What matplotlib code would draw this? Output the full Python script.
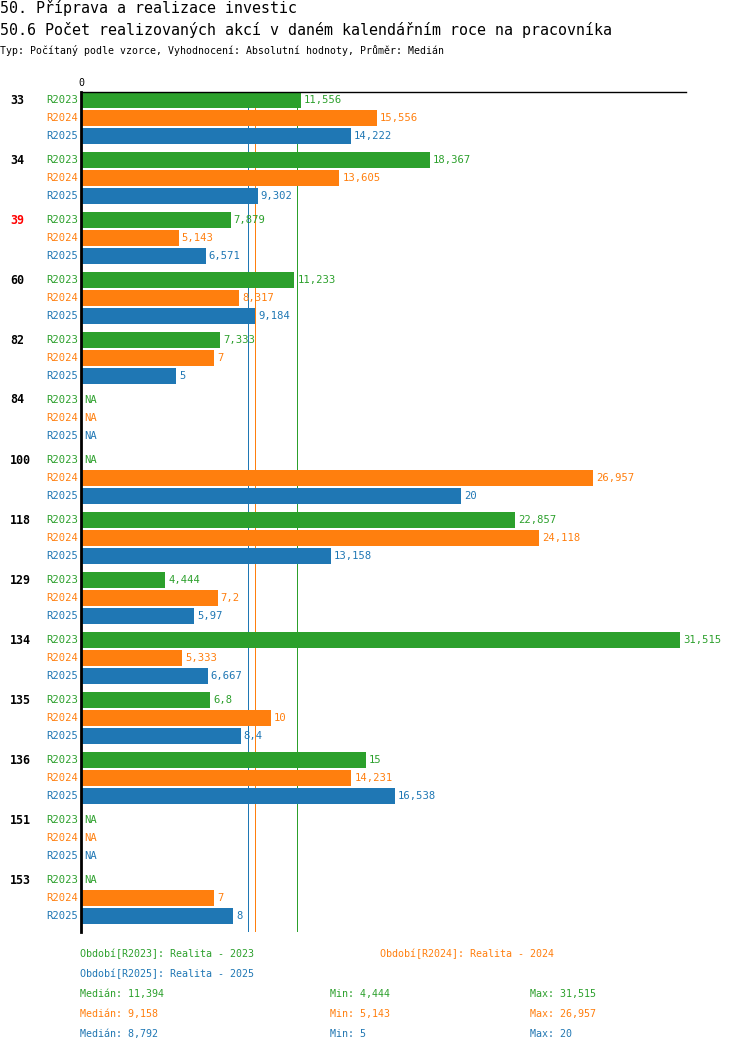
import matplotlib
matplotlib.use('Agg')
import matplotlib.pyplot as plt
import numpy as np

groups = ['33', '34', '39', '60', '82', '84', '100', '118', '129', '134', '135', '136', '151', '153']
periods = ['R2023', 'R2024', 'R2025']
r2023 = [11.556, 18.367, 7.879, 11.233, 7.333, None, None, 22.857, 4.444, 31.515, 6.8, 15, None, None]
r2024 = [15.556, 13.605, 5.143, 8.317, 7, None, 26.957, 24.118, 7.2, 5.333, 10, 14.231, None, 7]
r2025 = [14.222, 9.302, 6.571, 9.184, 5, None, 20, 13.158, 5.97, 6.667, 8.4, 16.538, None, 8]
medians = [11.394, 9.158, 8.792]
mins = [4.444, 5.143, 5]
maxs = [31.515, 26.957, 20]
highlight = ['39']

colors = ['#2ca02c', '#ff7f0e', '#1f77b4']
series = [r2023, r2024, r2025]
mono = 'DejaVu Sans Mono'

W, H = 750, 1052
fig = plt.figure(figsize=(W / 100, H / 100), dpi=100)

# axes placed in pixel coords
ax_l, ax_t, ax_r, ax_b = 81, 92, 686, 932
ax = fig.add_axes([ax_l / W, 1 - ax_b / H, (ax_r - ax_l) / W, (ax_b - ax_t) / H])
px_per_unit = 19.0
ax.set_xlim(0, (ax_r - ax_l) / px_per_unit)
ax.set_ylim(ax_b - ax_t, 0)


def fmt(v):
    s = f"{v:.3f}".rstrip('0').rstrip('.')
    return s.replace('.', ',')


def fx(px):
    return px / W


def fy(py):
    return 1 - py / H


group_h = 60
row_h = 18
bar_h = 16
for gi, g in enumerate(groups):
    gy = gi * group_h
    fig.text(fx(10), fy(ax_t + gy + 8), g, ha='left', va='center', fontsize=8.4,
             fontweight='bold', family=mono, color='red' if g in highlight else 'black')
    for si, (p, vals) in enumerate(zip(periods, series)):
        yc = gy + si * row_h + bar_h / 2
        fig.text(fx(78), fy(ax_t + yc), p, ha='right', va='center', fontsize=7.6,
                 family=mono, color=colors[si])
        v = vals[gi]
        if v is None:
            ax.text(3 / px_per_unit, yc, 'NA', ha='left', va='center', fontsize=7.6,
                    family=mono, color=colors[si])
        else:
            ax.barh(yc, v, height=bar_h, color=colors[si], zorder=2)
            ax.text(v + 3 / px_per_unit, yc, fmt(v), ha='left', va='center',
                    fontsize=7.6, family=mono, color=colors[si])

# median lines sit behind the bars, 1 px wide
for m, c in zip(medians, colors):
    ax.axvline(m, color=c, linewidth=0.72, zorder=1, antialiased=False)

for s in ['right', 'bottom']:
    ax.spines[s].set_visible(False)
ax.spines['top'].set_linewidth(1.0)
ax.spines['left'].set_linewidth(2.0)
ax.spines['left'].set_zorder(4)
ax.xaxis.tick_top()
ax.set_xticks([0])
ax.set_xticklabels(['0'], family=mono, fontsize=7.2)
ax.tick_params(axis='x', length=0, pad=3)
ax.set_yticks([])

# titles
fig.text(0, fy(8), '50. Příprava a realizace investic', ha='left', va='center',
         fontsize=10.8, family=mono)
fig.text(0, fy(30), '50.6 Počet realizovaných akcí v daném kalendářním roce na pracovníka',
         ha='left', va='center', fontsize=10.8, family=mono)
fig.text(0, fy(50), 'Typ: Počítaný podle vzorce, Vyhodnocení: Absolutní hodnoty, Průměr: Medián',
         ha='left', va='center', fontsize=7.1, family=mono)

# legend and stats
legend_pos = [(80, 954), (380, 954), (80, 974)]
for (lx, ly), p, c in zip(legend_pos, periods, colors):
    fig.text(fx(lx), fy(ly), f'Období[{p}]: Realita - {p[1:]}', ha='left', va='center',
             fontsize=7.2, family=mono, color=c)
for si, c in enumerate(colors):
    ly = 994 + si * 20
    fig.text(fx(80), fy(ly), f'Medián: {fmt(medians[si])}', ha='left', va='center',
             fontsize=7.2, family=mono, color=c)
    fig.text(fx(330), fy(ly), f'Min: {fmt(mins[si])}', ha='left', va='center',
             fontsize=7.2, family=mono, color=c)
    fig.text(fx(530), fy(ly), f'Max: {fmt(maxs[si])}', ha='left', va='center',
             fontsize=7.2, family=mono, color=c)

fig.savefig('out.png', dpi=100)
